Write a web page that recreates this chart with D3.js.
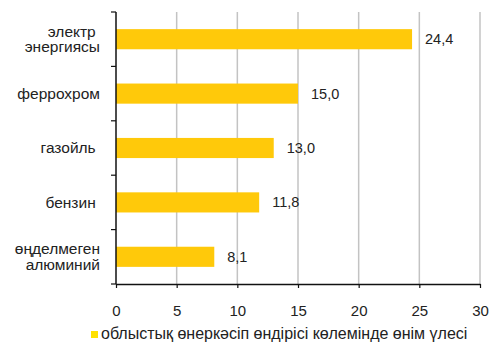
<!DOCTYPE html>
<html><head><meta charset="utf-8">
<script src="https://cdn.jsdelivr.net/npm/d3@7"></script>
<style>body{margin:0;background:#fff}svg{display:block}text{font-family:"Liberation Sans",Arial,sans-serif;fill:#222}</style>
</head><body>
<svg id="c" width="497" height="342"></svg>
<script>
const categories = [["электр\u00a0", "энергиясы"], ["феррохром"], ["газойль\u00a0"], ["бензин\u00a0"], ["өңделмеген", "алюминий"]];
const values = [24.4, 15.0, 13.0, 11.8, 8.1];
const xTicks = [0, 5, 10, 15, 20, 25, 30];
const legendLabel = "облыстық өнеркәсіп өндірісі көлемінде өнім үлесі";

const svg = d3.select("#c");
const x = d3.scaleLinear().domain([0, 30]).range([116, 480]);
const y = d3.scaleBand().domain(d3.range(categories.length)).range([12, 284]).paddingInner(0.63).paddingOuter(0.315);
const yb = d3.scaleBand().domain(d3.range(categories.length)).range([12, 284]);

// gridlines
svg.append("g").selectAll("line").data(xTicks.filter(d => d > 0)).join("line")
  .attr("x1", d => x(d)).attr("x2", d => x(d)).attr("y1", 12).attr("y2", 284)
  .attr("stroke", "#c3c3c3").attr("stroke-width", 1.5);

// bars
svg.append("g").selectAll("rect").data(values).join("rect")
  .attr("x", x(0)).attr("y", (d, i) => y(i)).attr("width", d => x(d) - x(0)).attr("height", y.bandwidth())
  .attr("fill", "#ffc90a");

// value labels
svg.append("g").selectAll("text").data(values).join("text")
  .attr("x", d => x(d) + 13).attr("y", (d, i) => y(i) + y.bandwidth() / 2).attr("dy", "0.35em")
  .attr("font-size", 14.5).text(d => d.toFixed(1).replace(".", ","));

// y axis
const ya = svg.append("g").attr("transform", `translate(${x(0)},0)`);
ya.append("line").attr("x1", 0).attr("x2", 0).attr("y1", 12).attr("y2", 284).attr("stroke", "#111").attr("stroke-width", 1.5);
ya.selectAll("line.t").data(d3.range(categories.length + 1)).join("line").attr("class", "t")
  .attr("x1", -5).attr("x2", 0).attr("y1", d => 12 + d * yb.step()).attr("y2", d => 12 + d * yb.step())
  .attr("stroke", "#111").attr("stroke-width", 1.2);

// category labels
const cl = svg.append("g").selectAll("text").data(categories).join("text")
  .attr("text-anchor", "end").attr("font-size", 15.5)
  .attr("transform", (d, i) => `translate(100,${y(i) + y.bandwidth() / 2})`);
cl.each(function(lines) {
  const t = d3.select(this);
  lines.forEach((l, k) => {
    t.append("tspan").attr("x", 0).attr("y", (k - (lines.length - 1) / 2) * 15.5).attr("dy", "0.35em").text(l);
  });
});

// x axis
const xa = svg.append("g").attr("transform", "translate(0,284)")
  .call(d3.axisBottom(x).tickValues(xTicks).tickSize(4).tickSizeOuter(0).tickPadding(17).tickFormat(d3.format("d")));
xa.select(".domain").attr("stroke", "#111").attr("stroke-width", 1.5);
xa.selectAll(".tick line").attr("stroke", "#111").attr("stroke-width", 1.2);
xa.selectAll(".tick text").attr("font-size", 15).attr("fill", "#222").attr("font-family", "Liberation Sans, Arial, sans-serif");

// legend
svg.append("rect").attr("x", 91).attr("y", 331).attr("width", 7).attr("height", 7).attr("fill", "#ffe100");
svg.append("text").attr("x", 101).attr("y", 339).attr("font-size", 16).text(legendLabel);
</script>
</body></html>
